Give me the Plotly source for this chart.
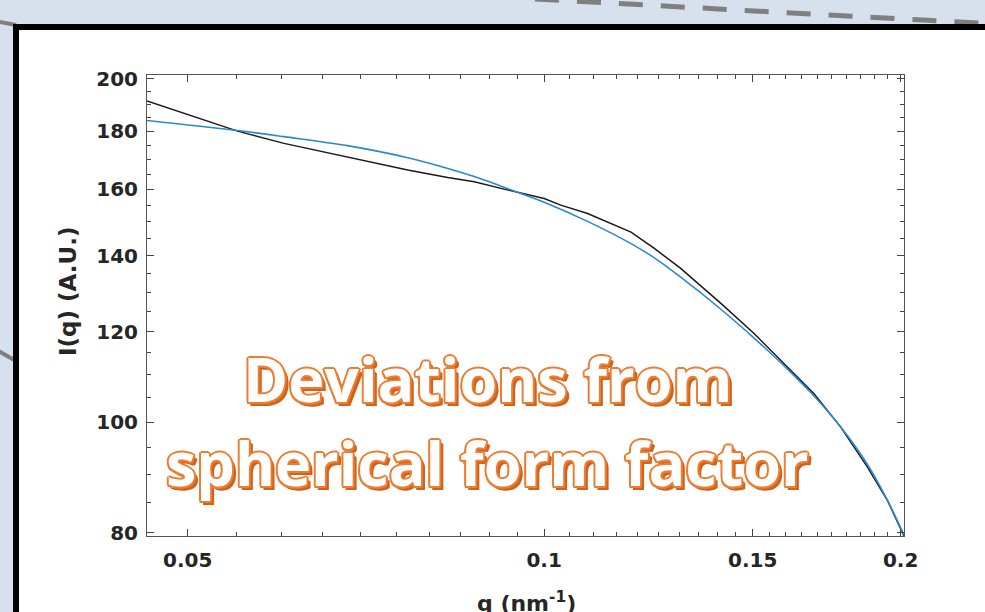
import math
import plotly.graph_objects as go

# ---- data ----
q_data = [0.0462, 0.0497, 0.0551, 0.0603, 0.0682, 0.0767, 0.0829, 0.0873, 0.0925, 0.1000,
          0.1033, 0.1088, 0.1184, 0.1238, 0.1304, 0.1410, 0.1504, 0.1605, 0.1690, 0.1780,
          0.1875, 0.1949, 0.2013]
I_data = [191.3, 186.6, 180.0, 175.6, 170.7, 166.4, 163.9, 162.5, 160.1, 157.1,
          155.0, 152.4, 146.8, 142.1, 136.4, 127.1, 119.6, 111.8, 105.9, 99.0,
          91.3, 85.4, 79.45]

q_fit = [0.0462, 0.0551, 0.0603, 0.0682, 0.0767, 0.0818, 0.0873, 0.0943, 0.1000, 0.1088,
         0.1184, 0.1238, 0.1304, 0.1410, 0.1504, 0.1605, 0.1690, 0.1780, 0.1875, 0.1949,
         0.2013]
I_fit = [183.9, 180.2, 178.0, 174.8, 170.6, 167.6, 164.2, 159.5, 155.9, 150.0,
         143.4, 139.4, 134.0, 125.6, 118.5, 111.3, 105.4, 99.0, 91.8, 85.4,
         79.6]

x_ticks = [0.05, 0.1, 0.15, 0.2]
x_ticklabels = ["0.05", "0.1", "0.15", "0.2"]
y_ticks = [80, 100, 120, 140, 160, 180, 200]
y_ticklabels = ["80", "100", "120", "140", "160", "180", "200"]
x_minor = [round(0.05 + 0.005 * i, 3) for i in range(31)]
x_minor = [v for v in x_minor if v not in x_ticks]
y_minor = [v for v in range(80, 205, 5) if v not in y_ticks]

x_range = [0.0462, 0.2013]
y_range = [79.45, 201.6]

W, H = 985, 612
L, R, T, B = 147, 81, 75, 76
pw, ph = W - L - R, H - T - B


def px2x(px):
    return (px - L) / pw


def px2y(py):
    return (H - B - py) / ph


FONT = "DejaVu Sans"
ORANGE = "#ED7D31"
DARK = "#D0621C"

fig = go.Figure()
fig.add_trace(go.Scatter(x=q_data, y=I_data, mode="lines",
                         line=dict(color="#1a1a1a", width=1.5), showlegend=False))
fig.add_trace(go.Scatter(x=q_fit, y=I_fit, mode="lines",
                         line=dict(color="#2a88cf", width=1.6, shape="spline", smoothing=1.0),
                         showlegend=False))

axis_common = dict(
    showline=True, linecolor="#555555", linewidth=1, mirror="ticks",
    ticks="inside", ticklen=7, tickwidth=1, tickcolor="#444444",
    showgrid=False, zeroline=False,
    tickfont=dict(family=FONT, size=20, color="#262626", weight="bold"),
)

fig.update_xaxes(type="log", range=[math.log10(x_range[0]), math.log10(x_range[1])],
                 tickvals=x_ticks, ticktext=x_ticklabels, ticklabelstandoff=6,
                 minor=dict(tickvals=x_minor, ticks="inside", ticklen=4, tickcolor="#444444"),
                 **axis_common)
fig.update_yaxes(type="log", range=[math.log10(y_range[0]), math.log10(y_range[1])],
                 tickvals=y_ticks, ticktext=y_ticklabels, ticklabelstandoff=4,
                 minor=dict(tickvals=y_minor, ticks="inside", ticklen=4, tickcolor="#444444"),
                 **axis_common)

shapes = []
# slide background decoration: dashed connector at top
shapes.append(dict(type="line", xref="paper", yref="paper",
                   x0=px2x(535), y0=px2y(-1), x1=px2x(995), y1=px2y(24),
                   line=dict(color="#7f7f7f", width=5, dash="24px,18px"), layer="below"))
shapes.append(dict(type="line", xref="paper", yref="paper",
                   x0=px2x(-5), y0=px2y(21), x1=px2x(16), y1=px2y(25),
                   line=dict(color="#7f7f7f", width=4), layer="below"))
shapes.append(dict(type="line", xref="paper", yref="paper",
                   x0=px2x(-5), y0=px2y(349), x1=px2x(16), y1=px2y(361),
                   line=dict(color="#7f7f7f", width=4), layer="below"))
# white panel with thick black frame
shapes.append(dict(type="rect", xref="paper", yref="paper",
                   x0=px2x(16), y0=px2y(27), x1=px2x(1010), y1=px2y(700),
                   line=dict(color="black", width=6), fillcolor="white", layer="below"))

shadow = ", ".join([
    f"2px 0 0 {ORANGE}", f"-2px 0 0 {ORANGE}", f"0 2px 0 {ORANGE}", f"0 -2px 0 {ORANGE}",
    f"1.5px 1.5px 0 {ORANGE}", f"-1.5px -1.5px 0 {ORANGE}", f"1.5px -1.5px 0 {ORANGE}",
    f"-1.5px 1.5px 0 {ORANGE}", f"3px 3px 0 {DARK}", f"4px 4px 0 {DARK}", f"2px 4px 0 {DARK}",
])
big_font = dict(family="Open Sans", size=61, color="white", weight="bold", shadow=shadow)

annotations = [
    dict(text="Deviations from", xref="paper", yref="paper", x=px2x(487), y=px2y(378),
         xanchor="center", yanchor="middle", showarrow=False, font=big_font),
    dict(text="spherical form factor", xref="paper", yref="paper", x=px2x(487), y=px2y(462),
         xanchor="center", yanchor="middle", showarrow=False, font=big_font),
    dict(text="I(q) (A.U.)", xref="paper", yref="paper", x=px2x(68), y=px2y(292),
         xanchor="center", yanchor="middle", textangle=-90, showarrow=False,
         font=dict(family=FONT, size=23, color="#262626", weight="bold")),
    dict(text="q (nm<sup>-1</sup>)", xref="paper", yref="paper", x=px2x(526), y=px2y(602),
         xanchor="center", yanchor="middle", showarrow=False,
         font=dict(family=FONT, size=22, color="#262626", weight="bold")),
]

fig.update_layout(
    width=W, height=H,
    margin=dict(l=L, r=R, t=T, b=B, autoexpand=False),
    paper_bgcolor="#d6e1ed", plot_bgcolor="white",
    shapes=shapes, annotations=annotations,
    showlegend=False,
)

fig.write_html("out.html")
